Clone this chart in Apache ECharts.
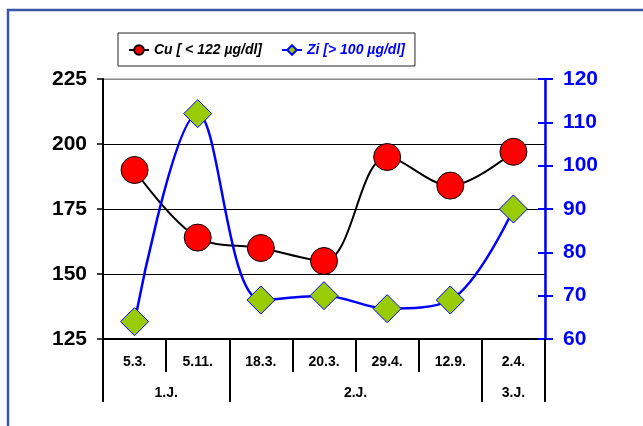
<!DOCTYPE html>
<html>
<head>
<meta charset="utf-8">
<script src="https://cdn.jsdelivr.net/npm/echarts@6/dist/echarts.min.js"></script>
<style>
  html, body { margin: 0; padding: 0; background: #fff; }
  #chart { width: 643px; height: 426px; }
</style>
</head>
<body>
<div id="chart"></div>
<script>
// Sampling dates and the year group each belongs to
const dates = ['5.3.', '5.11.', '18.3.', '20.3.', '29.4.', '12.9.', '2.4.'];
const groupNames = ['1.J.', '2.J.', '3.J.'];
const groupSizes = [2, 4, 1];

// Measured values
const cuName = 'Cu [ < 122 µg/dl]';
const ziName = 'Zi [> 100 µg/dl]';
const cuValues = [190, 164, 160, 155, 195, 184, 197];
const ziValues = [64, 112, 69, 70, 67, 69, 90];

// Axis scales
const leftTicks = { min: 125, max: 225, step: 25 };
const rightTicks = { min: 60, max: 120, step: 10 };

// Group boundaries and centres along the category axis (in category units)
const groupBounds = [0];
const groupCenters = [];
groupSizes.forEach(function (n, i) {
  const start = groupBounds[i];
  groupCenters.push(start + n / 2);
  groupBounds.push(start + n);
});
const groupByCenter = {};
groupCenters.forEach(function (c, i) { groupByCenter[c] = groupNames[i]; });

const FONT = '"Liberation Sans", Arial, sans-serif';
const BLUE = '#0000ff';

const chart = echarts.init(document.getElementById('chart'), null, { renderer: 'canvas' });

chart.setOption({
  backgroundColor: '#ffffff',
  animation: false,
  textStyle: { fontFamily: FONT },
  graphic: [{
    type: 'rect',
    shape: { x: 8, y: 10, width: 700, height: 500 },
    style: { fill: 'none', stroke: '#3a55a6', lineWidth: 2.5 },
    silent: true
  }],
  legend: {
    left: 118,
    top: 33,
    padding: [10, 10, 9, 10],
    itemGap: 19,
    itemWidth: 20,
    itemHeight: 12,
    borderColor: '#222',
    borderWidth: 1,
    backgroundColor: '#fff',
    textStyle: { fontFamily: FONT, fontSize: 14, fontWeight: 'bold', fontStyle: 'italic' },
    data: [
      { name: cuName, textStyle: { color: '#000' } },
      { name: ziName, textStyle: { color: BLUE } }
    ]
  },
  grid: { left: 103, right: 98, top: 79, bottom: 87, show: true, borderColor: '#888', borderWidth: 1 },
  xAxis: [{
    type: 'category',
    data: dates,
    position: 'bottom',
    boundaryGap: true,
    axisLine: { show: true, lineStyle: { color: '#000', width: 2 } },
    axisTick: { show: true, interval: 0, length: 33, lineStyle: { color: '#000', width: 2 } },
    axisLabel: { interval: 0, margin: 16, color: '#000', fontSize: 14, fontWeight: 'bold', fontFamily: FONT },
    splitLine: { show: false }
  }, {
    type: 'value',
    min: 0,
    max: dates.length,
    position: 'bottom',
    offset: 0,
    axisLine: { show: false },
    axisTick: { show: true, customValues: groupBounds, length: 63, lineStyle: { color: '#000', width: 2 } },
    axisLabel: {
      customValues: groupCenters,
      margin: 47,
      color: '#000', fontSize: 14, fontWeight: 'bold', fontFamily: FONT,
      formatter: function (v) { return groupByCenter[v] || ''; }
    },
    splitLine: { show: false }
  }],
  yAxis: [{
    type: 'value',
    position: 'left',
    min: leftTicks.min, max: leftTicks.max, interval: leftTicks.step,
    axisLine: { show: true, lineStyle: { color: '#000', width: 2 } },
    axisTick: { show: true, inside: false, length: 6, lineStyle: { color: '#000', width: 1.5 } },
    axisLabel: { margin: 16, color: '#000', fontSize: 21, fontWeight: 'bold', fontFamily: FONT },
    splitLine: { show: true, lineStyle: { color: ['#000', '#000', '#000', '#000', '#888'], width: 1 } }
  }, {
    type: 'value',
    position: 'right',
    min: rightTicks.min, max: rightTicks.max, interval: rightTicks.step,
    axisLine: { show: true, lineStyle: { color: BLUE, width: 2.5 } },
    axisTick: { show: true, inside: false, length: 8, lineStyle: { color: BLUE, width: 2 } },
    axisLabel: { margin: 18, color: BLUE, fontSize: 21, fontWeight: 'bold', fontFamily: FONT },
    splitLine: { show: false }
  }, {
    // inner half of the crossing ticks on the right-hand axis
    type: 'value',
    position: 'right',
    offset: 0,
    min: rightTicks.min, max: rightTicks.max, interval: rightTicks.step,
    axisLine: { show: false },
    axisTick: { show: true, inside: true, length: 7, lineStyle: { color: BLUE, width: 2 } },
    axisLabel: { show: false },
    splitLine: { show: false }
  }],
  series: [{
    name: cuName,
    type: 'line',
    xAxisIndex: 0,
    yAxisIndex: 0,
    data: cuValues,
    smooth: 0.35,
    symbol: 'circle',
    symbolSize: 27,
    lineStyle: { color: '#000', width: 2 },
    itemStyle: { color: '#ff0000', borderColor: '#000', borderWidth: 1 },
    z: 3
  }, {
    name: ziName,
    type: 'line',
    xAxisIndex: 0,
    yAxisIndex: 1,
    data: ziValues,
    smooth: 0.35,
    symbol: 'diamond',
    symbolSize: [28, 28],
    lineStyle: { color: BLUE, width: 2.5 },
    itemStyle: { color: '#99cc00', borderColor: BLUE, borderWidth: 1 },
    z: 4
  }]
});
</script>
</body>
</html>
